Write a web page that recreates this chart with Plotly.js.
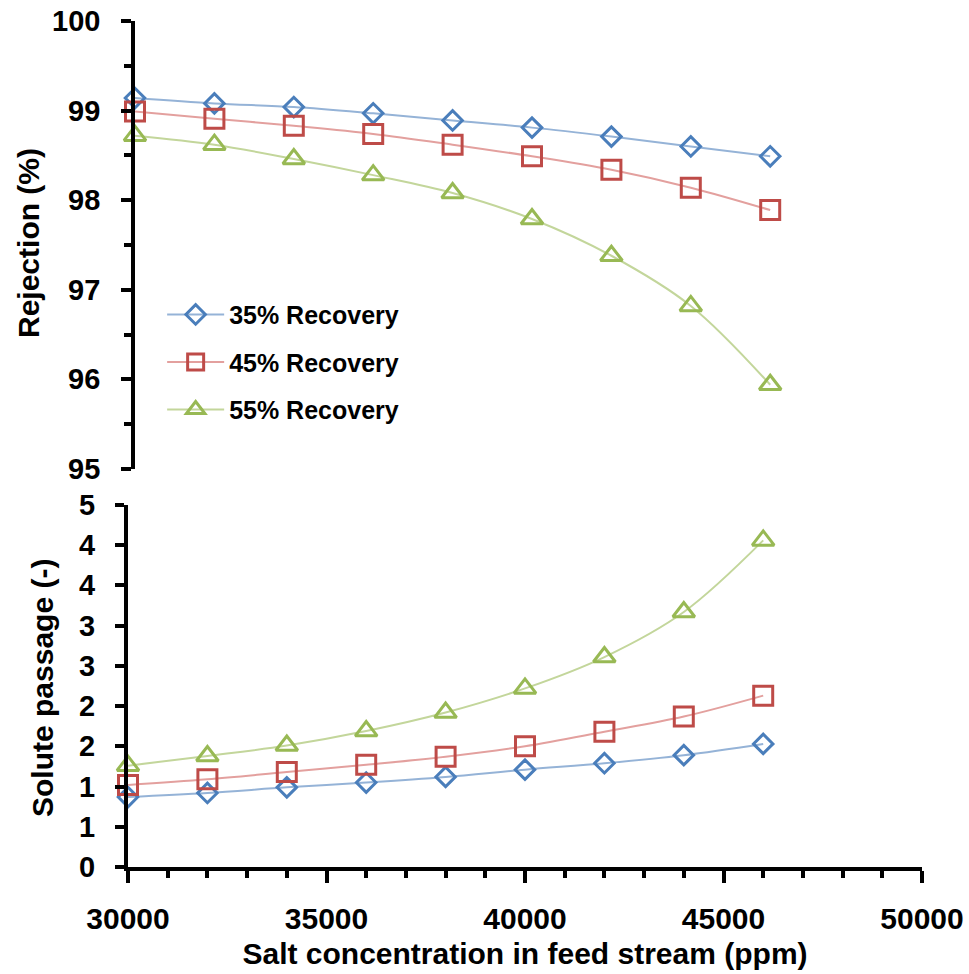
<!DOCTYPE html>
<html>
<head>
<meta charset="utf-8">
<script src="https://cdn.plot.ly/plotly-3.0.1.min.js"></script>
<style>html,body{margin:0;padding:0;background:#fff;}#chart{width:969px;height:974px;}</style>
</head>
<body>
<div id="chart"></div>
<script>
// Data
const feedConc = [30000, 32000, 34000, 36000, 38000, 40000, 42000, 44000, 46000];
const seriesNames = ['35% Recovery', '45% Recovery', '55% Recovery'];
const rejection35 = [99.14, 99.08, 99.04, 98.97, 98.89, 98.81, 98.71, 98.60, 98.49];
const rejection45 = [98.99, 98.91, 98.83, 98.74, 98.62, 98.49, 98.34, 98.14, 97.89];
const rejection55 = [98.72, 98.62, 98.46, 98.28, 98.08, 97.79, 97.38, 96.82, 95.94];
const passage35 = [0.87, 0.92, 0.99, 1.05, 1.12, 1.21, 1.29, 1.39, 1.53];
const passage45 = [1.02, 1.09, 1.18, 1.27, 1.37, 1.50, 1.68, 1.87, 2.13];
const passage55 = [1.26, 1.38, 1.51, 1.69, 1.92, 2.22, 2.61, 3.17, 4.06];
const rejectionTickVals = [95, 96, 97, 98, 99, 100];
const rejectionTickText = ['95', '96', '97', '98', '99', '100'];
const passageTickVals = [0, 0.5, 1, 1.5, 2, 2.5, 3, 3.5, 4, 4.5];
const passageTickText = ['0', '1', '1', '2', '2', '3', '3', '4', '4', '5'];
const xTitle = 'Salt concentration in feed stream (ppm)';
const topYTitle = 'Rejection (%)';
const bottomYTitle = 'Solute passage (-)';

const FONT = 'Liberation Sans, Arial, sans-serif';
const markerColors = ['#4a7ebb', '#be4b48', '#98b954'];
const lineColors = ['#95b3d7', '#e3a09e', '#c3d69b'];
const symbols = ['diamond-open', 'square-open', 'triangle-up-open'];
const sizes = [15, 19, 19];
const rejSeries = [rejection35, rejection45, rejection55];
const passSeries = [passage35, passage45, passage55];

const traces = [];
for (let i = 0; i < 3; i++) {
  traces.push({
    x: feedConc, y: rejSeries[i], xaxis: 'x2', yaxis: 'y2',
    type: 'scatter', mode: 'lines+markers', name: seriesNames[i],
    legendgroup: 'g' + i, cliponaxis: false,
    line: {shape: 'spline', smoothing: 1, color: lineColors[i], width: 2},
    marker: {symbol: symbols[i], size: sizes[i], color: markerColors[i], line: {width: 3, color: markerColors[i]}}
  });
}
for (let i = 0; i < 3; i++) {
  traces.push({
    x: feedConc, y: passSeries[i], xaxis: 'x', yaxis: 'y',
    type: 'scatter', mode: 'lines+markers', name: seriesNames[i],
    legendgroup: 'g' + i, showlegend: false, cliponaxis: false,
    line: {shape: 'spline', smoothing: 1, color: lineColors[i], width: 2},
    marker: {symbol: symbols[i], size: sizes[i], color: markerColors[i], line: {width: 3, color: markerColors[i]}}
  });
}

const yTickFont = {family: FONT, size: 29, color: '#000', weight: 700};
const xTickFont = {family: FONT, size: 30, color: '#000', weight: 700};
const titleFont = {family: FONT, size: 30, color: '#000', weight: 700};
const CLEAR = 'rgba(0,0,0,0)';

// y tick labels placed through the y scales, right-aligned a fixed gap left of the axes
const annotations = [];
rejectionTickVals.forEach((v, k) => annotations.push({
  text: rejectionTickText[k], xref: 'paper', yref: 'y2', x: (102 - 128) / 794, y: v,
  xanchor: 'right', yanchor: 'middle', showarrow: false, font: yTickFont
}));
passageTickVals.forEach((v, k) => annotations.push({
  text: passageTickText[k], xref: 'paper', yref: 'y', x: (97 - 128) / 794, y: v,
  xanchor: 'right', yanchor: 'middle', showarrow: false, font: yTickFont
}));
annotations.push(
  {text: topYTitle, xref: 'paper', yref: 'paper', x: (28 - 128) / 794, y: (867 - 243) / 846,
   xanchor: 'center', yanchor: 'middle', textangle: -90, showarrow: false, font: titleFont},
  {text: bottomYTitle, xref: 'paper', yref: 'paper', x: (42 - 128) / 794, y: (867 - 688) / 846,
   xanchor: 'center', yanchor: 'middle', textangle: -90, showarrow: false, font: titleFont}
);

const layout = {
  width: 969, height: 974,
  margin: {l: 128, r: 47, t: 21, b: 107},
  paper_bgcolor: '#fff', plot_bgcolor: CLEAR,
  showlegend: true,
  legend: {
    x: 0.043, y: 0.68, xanchor: 'left', yanchor: 'top', itemwidth: 57,
    bgcolor: CLEAR, traceorder: 'grouped', tracegroupgap: 12,
    font: {family: FONT, size: 25, color: '#000', weight: 700}
  },
  xaxis: {
    domain: [0, 1], anchor: 'y', range: [30000, 50000],
    tick0: 30000, dtick: 5000, tickformat: 'd', ticks: 'outside', ticklen: 12, tickwidth: 4, tickcolor: '#000',
    minor: {dtick: 1000, ticks: 'outside', ticklen: 7, tickwidth: 4, tickcolor: '#000'},
    showline: true, linewidth: 4, linecolor: '#000', showgrid: false, zeroline: false,
    tickfont: xTickFont, ticklabelstandoff: 10,
    title: {text: xTitle, font: titleFont, standoff: 10}
  },
  yaxis: {
    domain: [0, 362 / 846], anchor: 'x', range: [0, 4.5],
    tickmode: 'array', tickvals: passageTickVals, showticklabels: false,
    ticks: 'outside', ticklen: 9, tickwidth: 4, tickcolor: '#000',
    showline: true, linewidth: 4, linecolor: '#000', showgrid: false, zeroline: false
  },
  xaxis2: {
    domain: [7 / 794, 1], anchor: 'y2', range: [30000, 30000 + 787 / 794 * 20000],
    visible: false, showgrid: false, zeroline: false
  },
  yaxis2: {
    domain: [398 / 846, 1], anchor: 'x2', range: [95, 100],
    tickmode: 'array', tickvals: rejectionTickVals, showticklabels: false,
    ticks: 'outside', ticklen: 10, tickwidth: 4, tickcolor: '#000',
    minor: {dtick: 0.5, ticks: 'outside', ticklen: 7, tickwidth: 4, tickcolor: '#000'},
    showline: true, linewidth: 4, linecolor: '#000', showgrid: false, zeroline: false
  },
  annotations: annotations
};

Plotly.newPlot('chart', traces, layout, {displayModeBar: false, staticPlot: true});
</script>
</body>
</html>
